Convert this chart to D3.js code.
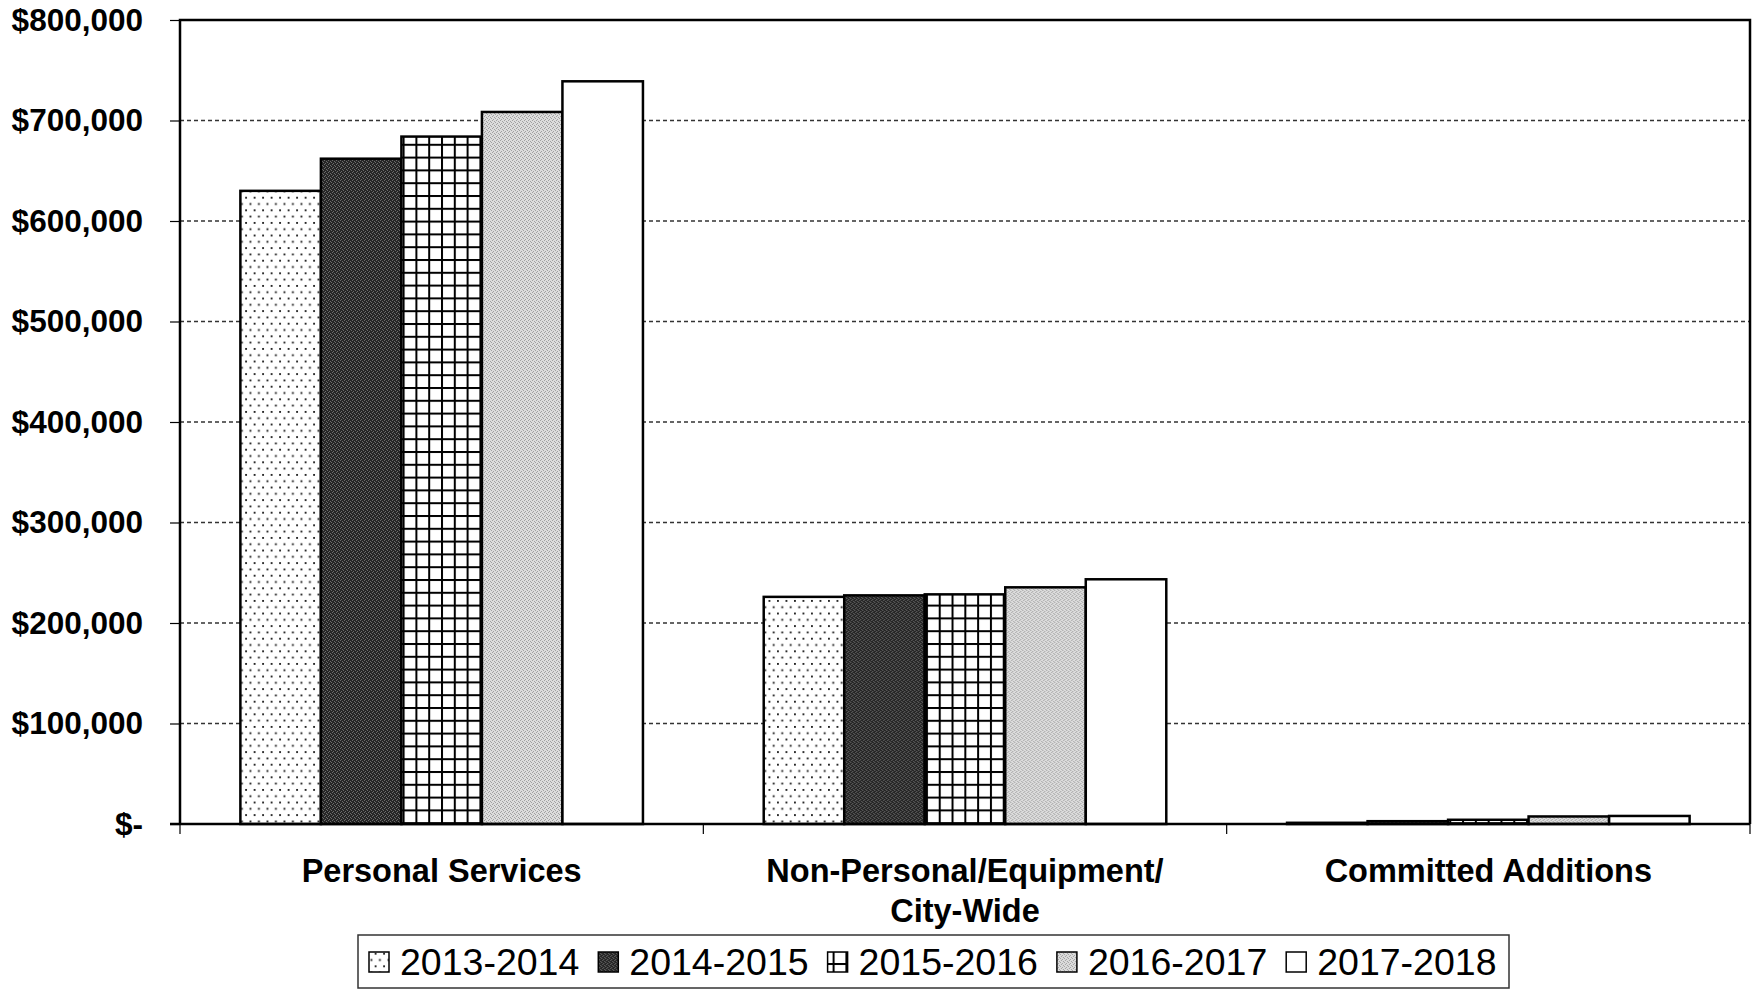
<!DOCTYPE html>
<html>
<head>
<meta charset="utf-8">
<script src="https://cdn.jsdelivr.net/npm/d3@7"></script>
<style>
  html, body { margin: 0; padding: 0; background: #fff; }
  svg { display: block; }
  text { font-family: "Liberation Sans", Arial, sans-serif; fill: #000; }
</style>
</head>
<body>
<svg id="chart" width="1758" height="989"></svg>
<script>
// Budget by category, five fiscal years
const categories = ["Personal Services", "Non-Personal/Equipment/\nCity-Wide", "Committed Additions"];
const seriesNames = ["2013-2014", "2014-2015", "2015-2016", "2016-2017", "2017-2018"];
const fy2013 = [630000, 226000, 1200];
const fy2014 = [662000, 227500, 2800];
const fy2015 = [684000, 228500, 4200];
const fy2016 = [708500, 235500, 7500];
const fy2017 = [739000, 243500, 8000];
const yTicks = [0, 100000, 200000, 300000, 400000, 500000, 600000, 700000, 800000];

const seriesValues = [fy2013, fy2014, fy2015, fy2016, fy2017];
const fills = ["url(#pDots)", "url(#pDark)", "url(#pGrid)", "url(#pLight)", "#ffffff"];

const svg = d3.select("#chart");
const plot = { left: 180, right: 1750, top: 20, bottom: 824 };

// ---- fill patterns ----
const defs = svg.append("defs");

const dots = defs.append("pattern").attr("id", "pDots")
  .attr("patternUnits", "userSpaceOnUse").attr("width", 8.5).attr("height", 12.6);
dots.append("rect").attr("width", 8.5).attr("height", 12.6).attr("fill", "#fff");
dots.append("rect").attr("x", 1.5).attr("y", 1.5).attr("width", 1.8).attr("height", 1.8).attr("fill", "#111");
dots.append("rect").attr("x", 5.7).attr("y", 7.8).attr("width", 1.8).attr("height", 1.8).attr("fill", "#111");

const dark = defs.append("pattern").attr("id", "pDark")
  .attr("patternUnits", "userSpaceOnUse").attr("width", 4).attr("height", 4);
dark.append("rect").attr("width", 4).attr("height", 4).attr("fill", "#262626");
[[0, 0], [2, 1], [1, 3], [3, 2]].forEach(([x, y]) =>
  dark.append("rect").attr("x", x).attr("y", y).attr("width", 1).attr("height", 1).attr("fill", "#6c6c6c"));

const light = defs.append("pattern").attr("id", "pLight")
  .attr("patternUnits", "userSpaceOnUse").attr("width", 4).attr("height", 4);
light.append("rect").attr("width", 4).attr("height", 4).attr("fill", "#dcdcdc");
[[0, 0], [2, 1], [1, 3], [3, 2]].forEach(([x, y]) =>
  light.append("rect").attr("x", x).attr("y", y).attr("width", 1).attr("height", 1).attr("fill", "#a0a0a0"));

const grid = defs.append("pattern").attr("id", "pGrid")
  .attr("patternUnits", "userSpaceOnUse").attr("width", 12.8).attr("height", 12.8)
  .attr("x", 5).attr("y", 3);
grid.append("rect").attr("width", 12.8).attr("height", 12.8).attr("fill", "#fff");
grid.append("rect").attr("x", 0).attr("y", 0).attr("width", 2).attr("height", 12.8).attr("fill", "#000");
grid.append("rect").attr("x", 0).attr("y", 0).attr("width", 12.8).attr("height", 2).attr("fill", "#000");

// ---- scales ----
const y = d3.scaleLinear().domain([0, 800000]).range([plot.bottom, plot.top]);
const x0 = d3.scaleBand().domain(categories).range([plot.left, plot.right]).padding(0);
const x1 = d3.scaleBand().domain(seriesNames).range([0, x0.bandwidth()])
  .paddingInner(0).paddingOuter(0.75);

const fmt = v => v === 0 ? "$-" : "$" + d3.format(",")(v);

// ---- gridlines ----
svg.append("g")
  .selectAll("line")
  .data(yTicks.filter(t => t > 0 && t < 800000))
  .join("line")
  .attr("x1", plot.left).attr("x2", plot.right)
  .attr("y1", d => y(d)).attr("y2", d => y(d))
  .attr("stroke", "#333").attr("stroke-width", 1.3)
  .attr("stroke-dasharray", "4,3");

// ---- bars ----
const groups = svg.append("g").selectAll("g")
  .data(categories)
  .join("g")
  .attr("transform", d => `translate(${x0(d)},0)`);

groups.selectAll("rect")
  .data((d, ci) => seriesNames.map((s, si) => ({ s, si, v: seriesValues[si][ci] })))
  .join("rect")
  .attr("x", d => x1(d.s))
  .attr("width", x1.bandwidth())
  .attr("y", d => y(d.v))
  .attr("height", d => y(0) - y(d.v))
  .attr("fill", d => fills[d.si])
  .attr("stroke", "#000")
  .attr("stroke-width", 2.5);

// ---- plot frame ----
svg.append("path")
  .attr("d", `M${plot.left},${plot.bottom} V${plot.top} H${plot.right} V${plot.bottom}`)
  .attr("fill", "none").attr("stroke", "#000").attr("stroke-width", 2.5);

// ---- y axis ----
const yAxis = d3.axisLeft(y).tickValues(yTicks).tickFormat(fmt).tickSize(10).tickPadding(27);
const gy = svg.append("g").attr("transform", `translate(${plot.left},0)`).call(yAxis);
gy.select(".domain").remove();
gy.selectAll(".tick line").attr("stroke", "#000").attr("stroke-width", 1.2);
gy.selectAll(".tick text")
  .attr("font-family", "'Liberation Sans', Arial, sans-serif")
  .attr("font-size", 31.5).attr("font-weight", "bold").attr("fill", "#000");

// ---- x axis ----
svg.append("line")
  .attr("x1", plot.left - 10).attr("x2", plot.right)
  .attr("y1", plot.bottom).attr("y2", plot.bottom)
  .attr("stroke", "#000").attr("stroke-width", 2.5);

const bounds = categories.map(c => x0(c)).concat([plot.right]);
svg.append("g").selectAll("line")
  .data(bounds)
  .join("line")
  .attr("x1", d => d).attr("x2", d => d)
  .attr("y1", plot.bottom).attr("y2", plot.bottom + 10)
  .attr("stroke", "#000").attr("stroke-width", 1.2);

const xl = svg.append("g").selectAll("text")
  .data(categories)
  .join("text")
  .attr("x", d => x0(d) + x0.bandwidth() / 2)
  .attr("y", 882)
  .attr("text-anchor", "middle")
  .attr("font-size", 32.5)
  .attr("font-weight", "bold");
xl.each(function (d) {
  const lines = d.split("\n");
  d3.select(this).selectAll("tspan")
    .data(lines)
    .join("tspan")
    .attr("x", x0(d) + x0.bandwidth() / 2)
    .attr("dy", (l, i) => i === 0 ? 0 : 39.5)
    .text(l => l);
});

// ---- legend ----
const legend = svg.append("g");
legend.append("rect")
  .attr("x", 358).attr("y", 935).attr("width", 1151).attr("height", 53)
  .attr("fill", "#fff").attr("stroke", "#333").attr("stroke-width", 1.5);

const item = legend.selectAll("g.item")
  .data(seriesNames)
  .join("g")
  .attr("class", "item")
  .attr("transform", (d, i) => `translate(${369 + i * 229.3},0)`);
item.append("rect")
  .attr("x", 0).attr("y", 952).attr("width", 20).attr("height", 20)
  .attr("fill", (d, i) => fills[i])
  .attr("stroke", "#000").attr("stroke-width", 1.5);
item.append("text")
  .attr("x", 31).attr("y", 975)
  .attr("font-size", 37.5)
  .text(d => d);
</script>
</body>
</html>
